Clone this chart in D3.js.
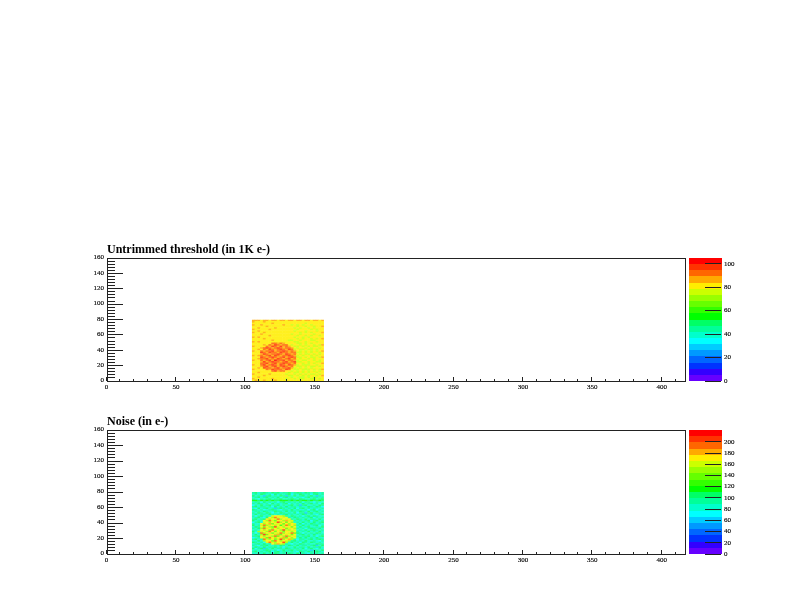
<!DOCTYPE html>
<html><head><meta charset="utf-8">
<script src="https://cdn.jsdelivr.net/npm/d3@7"></script>
<style>html,body{margin:0;padding:0;background:#fff}svg{display:block}text{font-family:"Liberation Serif",serif;fill:#000}</style>
</head><body><svg id="c" width="792" height="612"><defs><filter id="soft" x="-5%" y="-5%" width="110%" height="110%" color-interpolation-filters="sRGB"><feGaussianBlur stdDeviation="0.75"/></filter></defs></svg>
<script>
const titles = ["Untrimmed threshold (in 1K e-)", "Noise (in e-)"];
const xTicks = [0,50,100,150,200,250,300,350,400];
const yTicks = [0,20,40,60,80,100,120,140,160];
const thresholdBarTicks = [0,20,40,60,80,100];
const noiseBarTicks = [0,20,40,60,80,100,120,140,160,180,200];
const palette = ["#6600ff","#3300ff","#0033ff","#0066ff","#0099ff","#00ccff","#00ffff","#00ffcc","#00ff99","#00ff66","#00ff00","#33ff00","#66ff00","#99ff00","#ccff00","#ffee00","#ffaa00","#ff6600","#ff3300","#ff0000"];
const xStart = [105,107,109,111,113,115,117,119,121,123,125,127,129,131,133,135,137,139,141,143,145,147,149,151,153,155];
const yStart = [78,76,74,72,70,68,66,64,62,60,58,56,54,52,50,48,46,44,42,40,38,36,34,32,30,28,26,24,22,20,18,16,14,12,10,8,6,4,2,0];
const threshold = [
[85,84,85,83,84,85,83,84,86,82,84,85,83,84,85,82,84,85,83,84,85,82,84,85,83,85],
[84,83,82,81,84,80,82,81,83,80,82,83,81,80,82,79,81,83,80,82,79,81,80,82,81,82],
[82,80,83,80,81,83,80,85,81,82,80,81,83,80,79,81,82,79,80,78,81,79,82,80,79,83],
[85,81,83,85,80,82,81,79,83,80,82,84,80,81,78,80,76,80,76,81,80,77,80,81,80,81],
[81,83,81,80,82,84,80,82,80,81,79,80,82,79,81,80,78,81,80,77,82,80,77,80,81,84],
[83,80,84,81,83,80,82,81,84,80,82,81,79,80,82,78,80,77,81,80,78,81,76,79,80,80],
[84,82,80,83,81,82,85,80,81,83,80,79,81,82,79,81,76,80,79,82,80,77,81,78,80,83],
[81,81,84,82,80,81,80,83,80,81,82,80,83,79,81,77,82,79,81,77,80,81,79,76,82,81],
[85,83,80,81,85,80,82,81,79,82,80,81,80,82,79,80,81,78,80,77,79,76,81,80,79,84],
[82,80,82,84,80,83,81,80,83,80,81,79,82,80,77,79,80,76,79,80,81,79,77,81,80,80],
[81,82,81,80,82,81,84,80,81,82,80,81,79,81,80,82,77,80,81,78,80,77,79,80,76,83],
[84,81,85,82,80,83,80,82,80,81,83,79,81,80,79,76,80,79,77,80,76,80,81,79,80,81],
[83,83,80,81,84,80,82,81,83,80,80,82,80,79,81,80,77,80,78,81,79,77,80,78,81,84],
[81,80,82,83,81,82,80,85,81,82,79,81,80,77,78,81,79,76,81,79,80,78,76,80,79,80],
[85,82,84,80,82,81,83,80,82,80,82,80,81,79,81,77,77,81,79,76,82,80,79,77,80,83],
[82,81,80,83,81,80,82,90,94,88,92,89,80,81,79,80,76,78,80,77,79,76,81,79,80,81],
[81,83,82,80,84,81,93,88,96,91,87,94,90,80,77,79,80,76,79,76,81,79,77,81,76,84],
[84,80,83,81,80,92,87,95,90,88,97,89,93,88,80,77,78,80,76,79,77,81,78,76,81,80],
[83,82,81,84,90,95,91,88,93,98,90,87,94,91,89,79,76,79,80,77,79,76,81,79,77,83],
[81,81,85,80,93,88,97,92,89,91,95,90,88,96,90,77,80,76,77,80,76,78,80,77,79,81],
[85,83,80,91,87,94,90,96,88,93,90,97,91,89,93,87,79,77,81,76,80,77,79,76,81,84],
[82,80,82,95,90,88,98,91,93,87,96,90,94,88,92,90,76,78,80,77,79,76,80,79,77,80],
[81,82,81,89,96,92,87,94,90,99,91,88,95,92,87,93,80,77,79,76,76,80,77,80,78,83],
[84,81,84,92,88,93,97,89,95,90,87,94,90,97,91,88,77,80,76,79,81,76,80,77,79,81],
[83,83,80,97,91,87,92,96,90,88,94,99,89,91,95,90,76,78,80,77,80,77,78,80,76,84],
[81,80,88,90,94,98,89,91,87,95,92,88,93,96,88,92,80,76,79,80,76,80,77,79,80,80],
[85,82,81,93,87,91,95,88,100,92,90,96,88,91,94,89,77,80,76,76,81,79,76,81,77,83],
[82,81,83,88,96,89,92,97,90,94,87,91,98,89,92,95,76,77,79,80,77,81,79,76,78,81],
[81,83,80,94,90,95,88,91,96,89,93,97,90,94,88,91,80,79,76,79,77,80,76,79,81,84],
[84,80,82,91,97,88,93,99,90,87,95,91,89,96,92,88,77,81,76,77,78,79,80,77,79,80],
[83,82,81,84,92,96,89,91,95,88,92,98,90,87,93,80,76,78,80,76,81,77,77,80,76,83],
[81,81,84,80,95,90,94,87,92,97,89,93,91,95,89,77,80,76,79,77,80,76,81,79,80,81],
[85,83,80,82,81,93,88,96,90,91,94,88,97,90,80,76,78,80,77,78,76,82,77,81,76,84],
[82,80,82,81,83,80,82,91,95,88,93,90,81,80,77,80,76,79,76,81,77,79,76,80,78,80],
[81,82,84,80,81,83,80,82,80,81,79,82,80,77,80,78,77,81,76,80,77,80,79,76,80,83],
[84,81,80,83,82,80,85,81,83,80,82,80,77,79,81,76,79,77,81,76,80,78,76,80,77,81],
[83,83,82,80,84,81,80,82,80,81,80,83,79,77,78,81,76,79,77,82,76,81,80,76,80,84],
[81,80,85,81,80,82,83,80,82,79,81,80,82,80,76,79,81,76,78,80,77,79,76,81,79,80],
[85,82,81,83,81,80,81,84,80,81,80,79,77,80,79,76,80,78,77,79,80,76,77,80,76,83],
[82,84,83,82,84,82,83,82,84,82,83,81,82,83,81,82,81,83,81,82,80,82,81,82,81,81]
];
const noise = [
[92,104,88,96,108,90,82,100,94,106,86,98,92,104,84,96,102,90,80,100,94,88,106,92,84,98],
[86,98,78,102,90,84,96,70,104,88,98,82,92,100,76,94,86,106,90,82,98,74,92,102,88,94],
[100,84,94,88,62,98,104,86,92,80,100,90,58,96,88,102,82,94,100,86,92,104,84,66,96,82],
[78,96,106,82,94,100,78,92,86,102,74,94,104,84,92,76,98,86,72,96,104,82,90,98,80,92],
[94,88,72,98,86,92,102,84,96,90,106,80,88,98,102,90,84,100,92,86,78,94,102,84,94,100],
[112,116,104,118,108,114,102,120,110,106,116,112,118,104,114,108,120,102,112,116,106,118,110,104,114,108],
[84,96,90,76,102,88,94,82,98,74,90,100,84,92,78,96,86,104,74,90,98,84,70,96,88,82],
[98,80,104,92,86,98,72,106,88,96,84,92,104,76,98,88,94,82,100,86,92,104,88,94,76,100],
[72,94,86,100,78,90,104,84,94,102,78,98,86,92,104,82,96,60,92,106,84,78,96,82,102,90],
[96,106,82,94,98,84,92,76,100,88,96,84,106,80,90,98,86,94,78,88,102,94,86,100,90,74],
[88,76,100,84,92,106,80,98,62,94,102,90,78,96,88,100,74,92,104,84,96,80,98,88,84,96],
[102,92,86,98,74,88,96,104,90,82,76,98,94,86,106,82,96,88,80,98,74,92,106,76,94,86],
[80,98,94,78,104,92,84,88,100,96,90,84,102,78,92,98,88,104,92,84,100,86,90,102,82,96],
[94,84,106,90,86,100,94,76,92,88,104,98,80,94,86,102,76,90,98,62,92,104,84,92,98,78],
[86,102,78,96,92,80,102,96,84,98,82,90,102,86,98,78,94,84,104,92,80,96,88,76,90,100],
[98,74,92,104,88,96,84,158,168,172,160,150,92,80,102,90,86,98,76,94,104,88,100,94,82,88],
[82,94,100,84,76,102,170,152,188,164,172,156,170,96,84,100,92,78,96,86,90,102,76,98,88,96],
[92,106,86,94,100,166,148,172,160,196,154,170,158,168,90,82,104,94,88,100,84,92,96,86,104,78],
[104,82,90,78,172,154,190,162,140,170,172,148,186,156,164,94,80,96,84,92,106,76,90,100,84,94],
[76,96,102,88,160,172,146,170,164,200,154,170,138,170,148,88,98,86,102,78,94,88,104,82,92,100],
[90,88,84,172,152,168,186,142,172,158,170,138,166,152,172,160,84,100,76,96,84,102,92,86,98,80],
[100,78,96,156,190,146,164,170,150,170,132,162,194,148,170,150,92,78,104,88,94,80,96,106,76,94],
[84,102,90,170,142,172,154,136,200,160,172,150,168,170,140,166,88,102,84,92,100,86,78,94,88,102],
[96,86,106,148,196,160,172,152,168,144,170,166,136,158,172,154,96,82,98,76,90,104,92,84,100,86],
[80,94,84,172,150,170,138,190,156,172,148,204,164,144,170,162,80,94,88,102,84,92,100,90,78,96],
[102,88,150,162,170,144,188,166,140,172,158,136,170,168,150,172,92,86,96,84,106,78,94,86,104,82],
[90,76,98,190,148,172,156,140,170,164,196,146,170,156,192,142,104,90,76,98,88,96,82,100,92,88],
[84,100,86,154,200,138,172,168,150,186,142,172,160,170,138,166,84,96,102,86,92,80,104,88,78,94],
[98,92,104,170,146,172,162,154,192,136,172,150,198,144,172,158,96,78,90,94,100,86,92,76,96,104],
[76,84,90,172,158,142,198,168,146,172,160,186,138,170,152,172,88,102,84,106,78,94,86,100,88,82],
[94,104,82,96,190,164,150,172,140,156,202,148,172,186,144,90,76,92,98,84,92,104,80,94,102,90],
[86,78,100,88,152,172,172,138,188,166,146,172,158,150,92,104,86,96,78,100,88,82,96,86,76,98],
[102,94,84,96,76,162,190,156,144,172,170,200,148,88,100,84,94,74,102,90,86,104,92,80,96,84],
[80,90,106,82,100,88,94,172,154,186,160,146,96,84,76,98,88,104,92,82,96,78,88,100,90,94],
[96,84,76,98,92,104,84,78,96,88,102,90,82,100,94,86,106,80,92,98,84,94,102,62,84,100],
[88,102,92,84,100,78,96,90,106,82,94,76,98,88,84,104,78,92,96,86,100,82,90,96,106,78],
[100,76,96,104,62,94,86,102,80,92,98,88,104,92,78,96,90,84,100,74,92,104,84,76,92,88],
[84,94,88,78,96,102,90,84,98,74,86,104,78,96,102,84,92,98,80,94,88,60,98,90,84,102],
[92,100,82,96,86,92,104,76,92,100,84,94,90,82,98,88,76,106,90,84,102,92,78,100,94,86],
[78,88,98,84,104,80,94,88,102,90,78,98,86,104,92,84,100,82,94,88,76,96,86,92,80,96]
];
const svg = d3.select("#c");
const plots = [
  {title:titles[0], titleY:253, top:258, bottom:381, data:threshold, zTop:105, barTicks:thresholdBarTicks},
  {title:titles[1], titleY:425, top:430, bottom:554, data:noise, zTop:221, barTicks:noiseBarTicks}
];
const styleLabels = sel => sel.selectAll("text").attr("font-size",7).attr("font-family","Liberation Serif").attr("fill","#000").attr("stroke","#000").attr("stroke-width",0.15);
plots.forEach(p=>{
  const x = d3.scaleLinear().domain([0,416.4]).range([106,684]);
  const y = d3.scaleLinear().domain([0,160]).range([p.bottom,p.top]);
  const color = d3.scaleQuantize().domain([0,p.zTop]).range(palette);
  const g = svg.append("g");
  const clipId = "clip"+p.top;
  const clip = svg.select("defs").append("clipPath").attr("id",clipId);
  clip.append("rect").attr("x",x(xStart[0])).attr("y",y(yStart[0]+2))
    .attr("width",x(xStart[xStart.length-1]+2)-x(xStart[0]))
    .attr("height",y(0)-y(yStart[0]+2));
  const cells = g.append("g").attr("clip-path",`url(#${clipId})`).append("g").attr("filter","url(#soft)").attr("opacity",0.88);
  p.data.forEach((row,i)=>{
    cells.append("g").selectAll("rect").data(row).join("rect")
      .attr("x",(d,j)=>x(xStart[j]))
      .attr("y",y(yStart[i]+2))
      .attr("width",(d,j)=>x(xStart[j]+2)-x(xStart[j])+0.5)
      .attr("height",y(yStart[i])-y(yStart[i]+2)+0.5)
      .attr("fill",d=>color(d));
  });
  g.append("rect").attr("x",107).attr("y",p.top).attr("width",578).attr("height",p.bottom-p.top)
    .attr("fill","none").attr("stroke","#222").attr("stroke-width",1).attr("shape-rendering","crispEdges");
  const labels = g.append("g").attr("opacity",0.99);
  const xa = labels.append("g").attr("transform",`translate(0,${p.bottom-1})`);
  xa.call(d3.axisBottom(x).tickValues(xTicks).tickSize(0).tickPadding(4).tickFormat(d3.format("d")));
  xa.select(".domain").remove();
  styleLabels(xa);
  const xMinor = d3.range(0,417,10);
  g.append("g").selectAll("line").data(xMinor).join("line")
    .attr("x1",d=>x(d)).attr("x2",d=>x(d)).attr("y1",p.bottom)
    .attr("y2",d=>p.bottom-(d%50===0?4:2)).attr("stroke","#222").attr("shape-rendering","crispEdges");
  const ya = labels.append("g").attr("transform","translate(107,-1.5)");
  ya.call(d3.axisLeft(y).tickValues(yTicks).tickSize(0).tickPadding(3).tickFormat(d3.format("d")));
  ya.select(".domain").remove();
  styleLabels(ya);
  const yMinor = d3.range(0,161,4);
  g.append("g").selectAll("line").data(yMinor).join("line")
    .attr("y1",d=>y(d)).attr("y2",d=>y(d)).attr("x1",107)
    .attr("x2",d=>107+(d%20===0?16:8)).attr("stroke","#222").attr("shape-rendering","crispEdges");
  labels.append("text").attr("x",107).attr("y",p.titleY).attr("font-size",12).attr("font-weight","bold").text(p.title);
  const z = d3.scaleLinear().domain([0,p.zTop]).range([p.bottom,p.top]);
  const levels = d3.range(palette.length);
  const step = p.zTop/palette.length;
  g.append("g").selectAll("rect").data(levels).join("rect")
    .attr("x",689).attr("width",33)
    .attr("y",k=>z((k+1)*step)).attr("height",k=>z(k*step)-z((k+1)*step))
    .attr("fill",k=>palette[k]).attr("shape-rendering","crispEdges");
  const za = labels.append("g").attr("transform","translate(721,-1)");
  za.call(d3.axisRight(z).tickValues(p.barTicks).tickSize(0).tickPadding(3).tickFormat(d3.format("d")));
  za.select(".domain").remove();
  styleLabels(za);
  g.append("g").selectAll("line").data(p.barTicks).join("line")
    .attr("y1",d=>z(d)).attr("y2",d=>z(d)).attr("x1",705).attr("x2",721)
    .attr("stroke","#222").attr("shape-rendering","crispEdges");
});
</script></body></html>
